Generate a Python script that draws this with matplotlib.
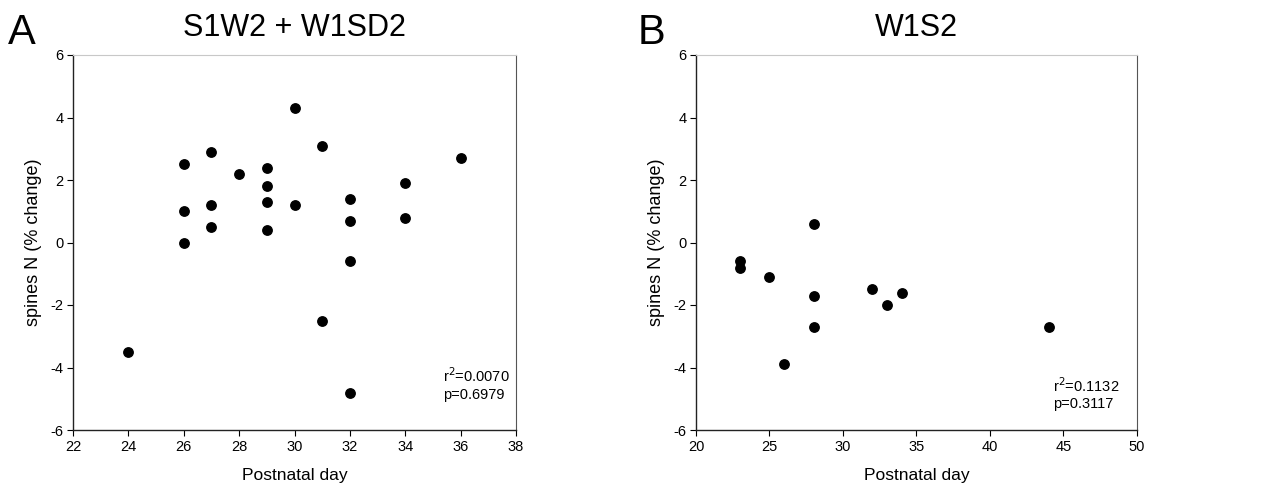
import numpy as np
import matplotlib
matplotlib.use("Agg")
from matplotlib import pyplot as plt

plt.rcParams['font.family'] = ['Liberation Sans', 'DejaVu Sans']
plt.rcParams['axes.unicode_minus'] = False

# panel A: S1W2 + W1SD2
day_a = [24, 26, 26, 26, 27, 27, 27, 28, 29, 29, 29, 29, 30, 30, 31, 31,
         32, 32, 32, 32, 34, 34, 36]
spines_a = [-3.5, 2.5, 1.0, 0.0, 2.9, 1.2, 0.5, 2.2, 2.4, 1.8, 1.3, 0.4,
            4.3, 1.2, 3.1, -2.5, 1.4, 0.7, -0.6, -4.8, 1.9, 0.8, 2.7]

# panel B: W1S2
day_b = [23, 23, 25, 26, 28, 28, 28, 32, 33, 34, 44]
spines_b = [-0.6, -0.8, -1.1, -3.9, 0.6, -1.7, -2.7, -1.5, -2.0, -1.6, -2.7]

panels = [
    ("A", "S1W2 + W1SD2", day_a, spines_a, (22, 38), np.arange(22, 39, 2),
     "r$^2$=0.0070\np=0.6979", (0.835, 0.075)),
    ("B", "W1S2", day_b, spines_b, (20, 50), np.arange(20, 51, 5),
     "r$^2$=0.1132\np=0.3117", (0.81, 0.05)),
]

fig = plt.figure(figsize=(12.63, 5.0), dpi=100)
rects = [[73 / 1263, 70 / 500, 443 / 1263, 375 / 500],
         [696 / 1263, 70 / 500, 441 / 1263, 375 / 500]]
letter_x = [8 / 1263, 638 / 1263]

for rect, lx, (letter, title, xs, ys, xlim, xticks, stats, spos) in zip(rects, letter_x, panels):
    ax = fig.add_axes(rect)
    ax.scatter(xs, ys, s=46, color="black", zorder=3, clip_on=False)
    ax.set_xlim(*xlim)
    ax.set_ylim(-6, 6)
    ax.set_xticks(xticks)
    ax.set_yticks(np.arange(-6, 7, 2))
    ax.tick_params(direction="out", length=4, width=0.8, labelsize=10.5,
                   colors="black", pad=3)
    for side in ["left", "bottom"]:
        ax.spines[side].set_color("#222222")
        ax.spines[side].set_linewidth(1.0)
    ax.spines["top"].set_color("#c8c8c8")
    ax.spines["right"].set_color("#555555")
    ax.set_xlabel("Postnatal day", fontsize=12.5, labelpad=10)
    ax.set_ylabel("spines N (% change)", fontsize=13, labelpad=6)
    ax.set_title(title, fontsize=22, pad=14)
    ax.text(spos[0], spos[1], stats, transform=ax.transAxes, fontsize=10.5,
            va="bottom", ha="left", linespacing=1.25)
    fig.text(lx, 0.975, letter, fontsize=30, va="top", ha="left")

fig.savefig("out.png", dpi=100)
